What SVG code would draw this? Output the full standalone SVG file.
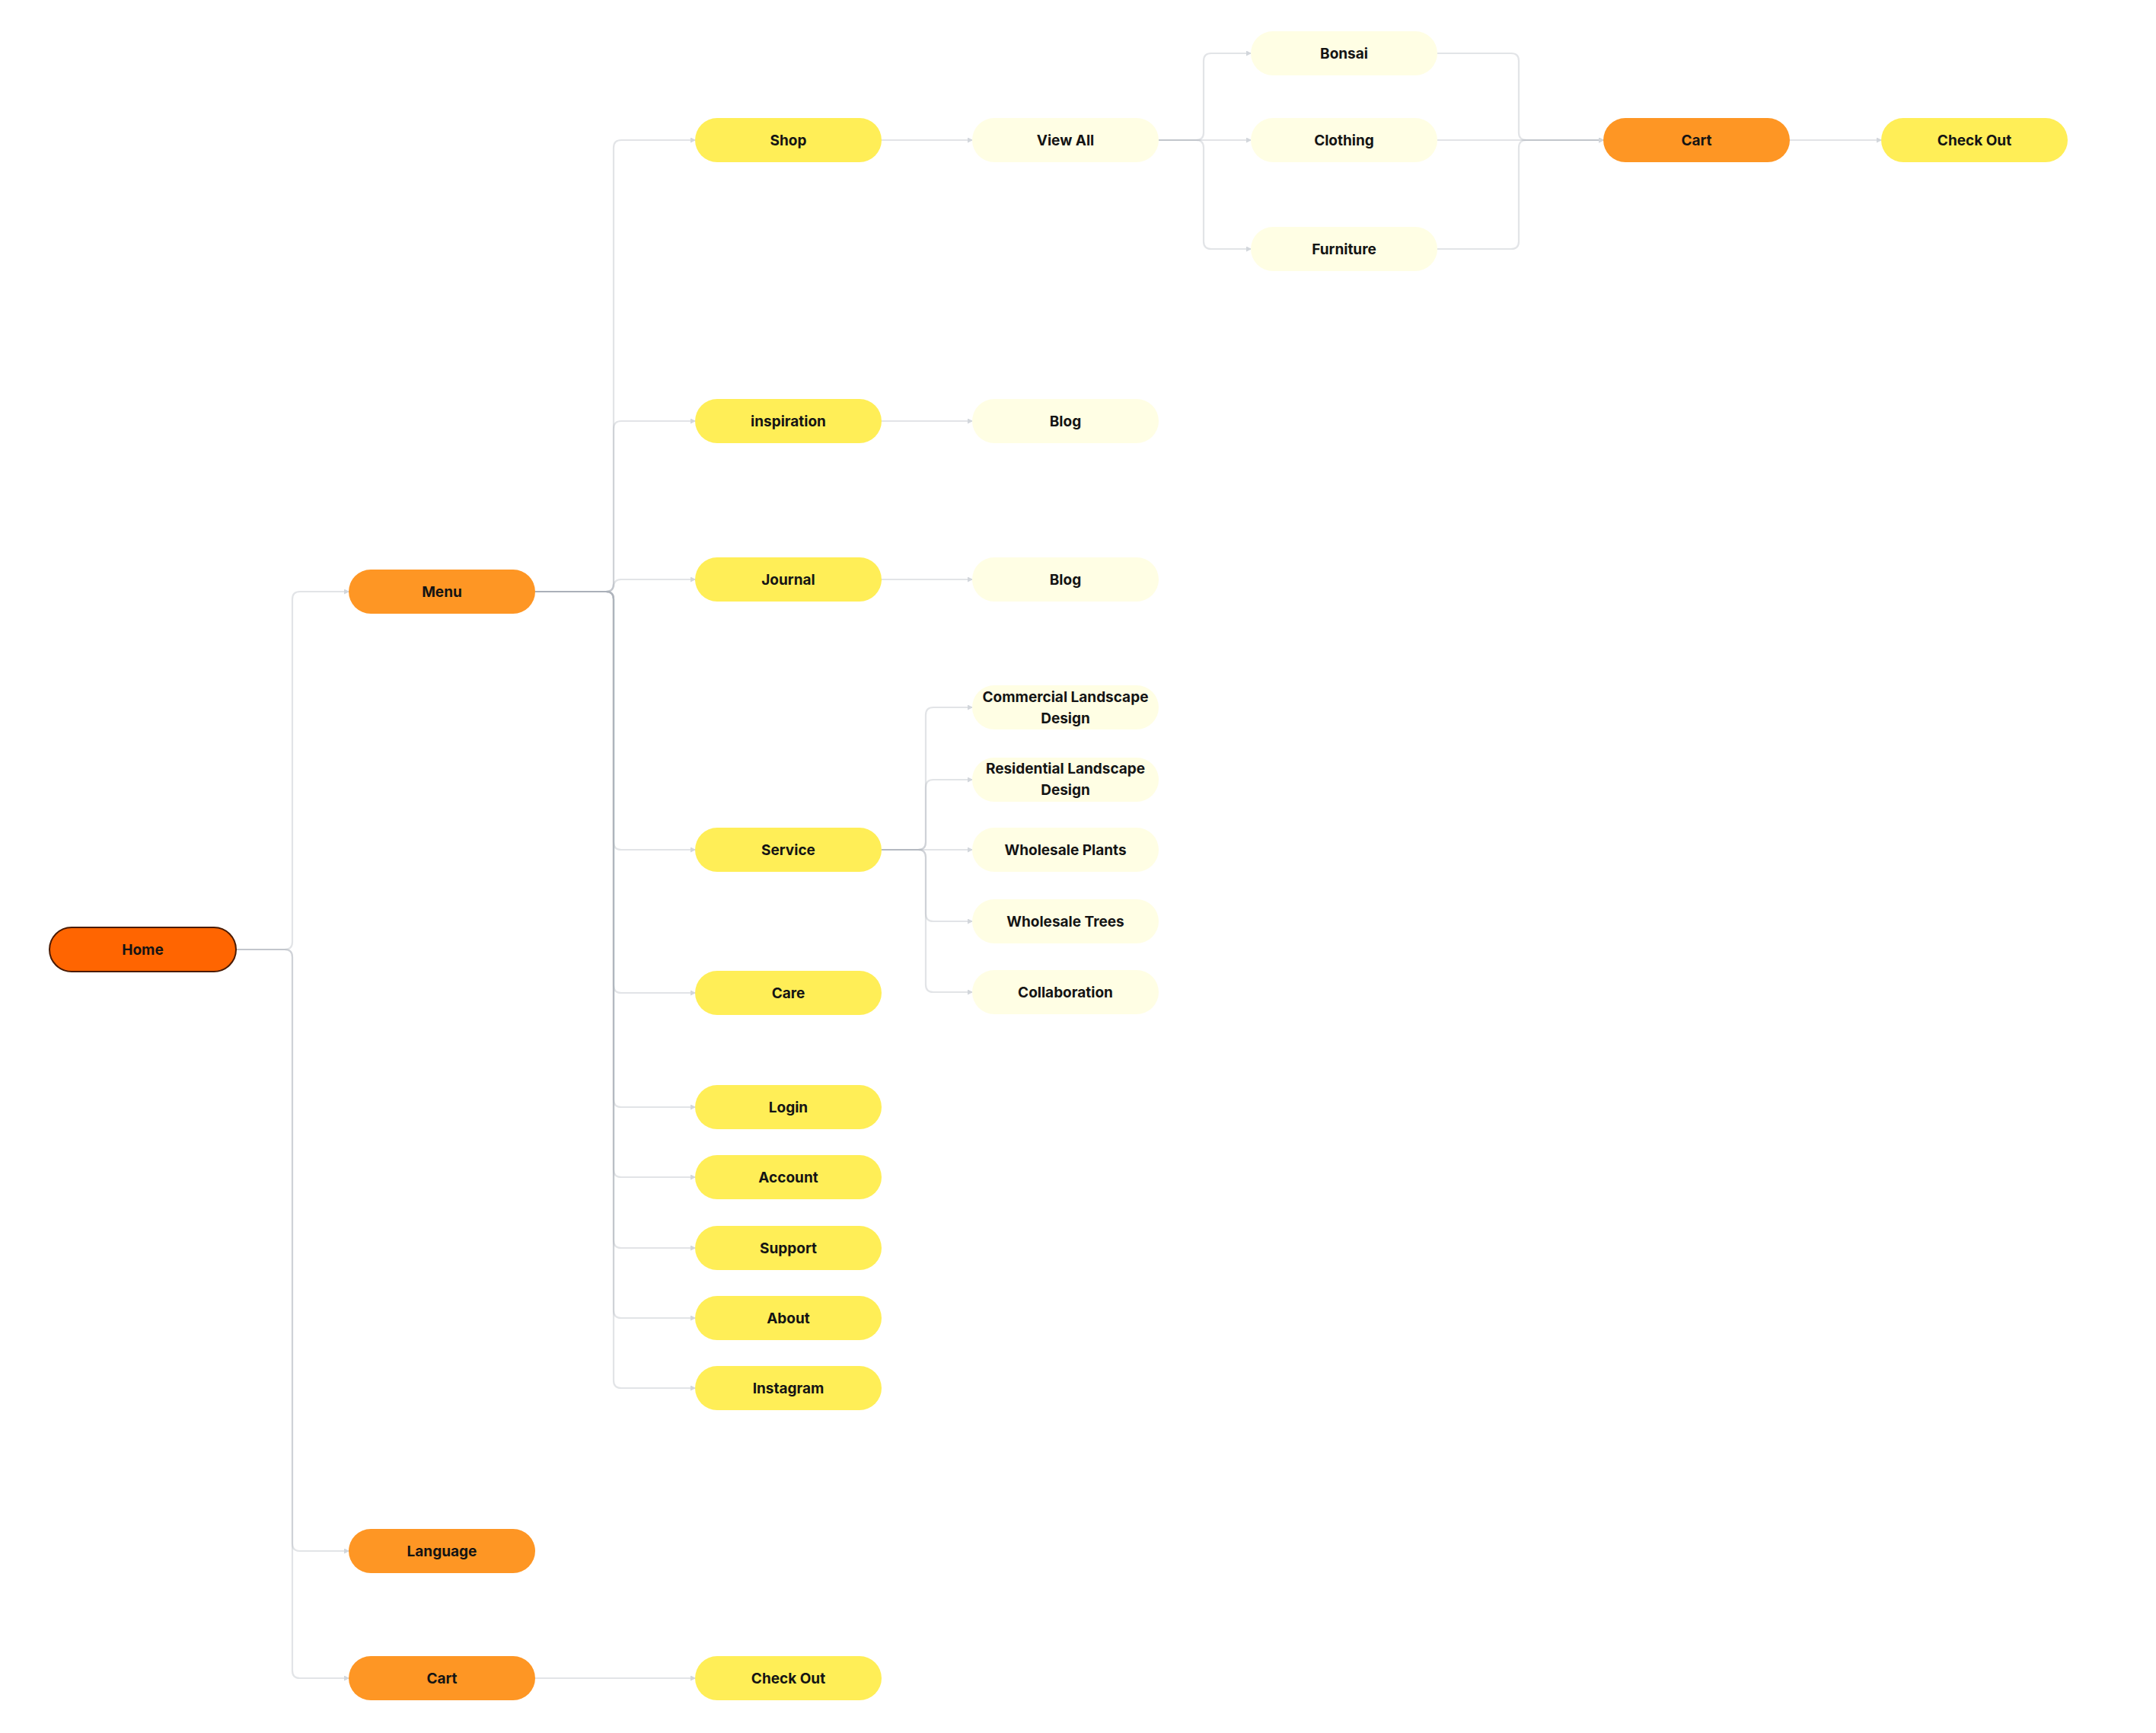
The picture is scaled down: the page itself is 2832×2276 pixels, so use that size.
<svg xmlns="http://www.w3.org/2000/svg" width="2832" height="2276" viewBox="0 0 2832 2276">
<style>
.bg{fill:#ffffff}
.n rect{rx:29;ry:29}
.home rect{fill:#FF6501;stroke:#4a1a00;stroke-width:2}
.l1 rect{fill:#FE9624}
.l2 rect{fill:#FFEE57}
.l3 rect{fill:#FFFEE4}
.n text{font-family:Inter,"Liberation Sans",Arial,sans-serif;font-weight:700;font-size:19px;fill:#141414;text-anchor:middle}
.c path{fill:none;stroke:#a9b0b8;stroke-opacity:0.34;stroke-width:2.2;marker-end:url(#ah)}
</style>
<defs>
<marker id="ah" markerWidth="7" markerHeight="7" refX="6" refY="3.5" orient="auto" markerUnits="userSpaceOnUse">
<path d="M0,0 L7,3.5 L0,7 Z" fill="#d2d6db"/>
</marker>
</defs>
<rect class="bg" x="0" y="0" width="2832" height="2276"/>
<g id="connectors" class="c">
<path d="M310 1247 H374 Q384 1247 384 1237 V787 Q384 777 394 777 H458"/>
<path d="M310 1247 H374 Q384 1247 384 1257 V2027 Q384 2037 394 2037 H458"/>
<path d="M310 1247 H374 Q384 1247 384 1257 V2194 Q384 2204 394 2204 H458"/>
<path d="M703 777 H796 Q806 777 806 767 V194 Q806 184 816 184 H913"/>
<path d="M703 777 H796 Q806 777 806 767 V563 Q806 553 816 553 H913"/>
<path d="M703 777 H796 Q806 777 806 767 V771 Q806 761 816 761 H913"/>
<path d="M703 777 H796 Q806 777 806 787 V1106 Q806 1116 816 1116 H913"/>
<path d="M703 777 H796 Q806 777 806 787 V1294 Q806 1304 816 1304 H913"/>
<path d="M703 777 H796 Q806 777 806 787 V1444 Q806 1454 816 1454 H913"/>
<path d="M703 777 H796 Q806 777 806 787 V1536 Q806 1546 816 1546 H913"/>
<path d="M703 777 H796 Q806 777 806 787 V1629 Q806 1639 816 1639 H913"/>
<path d="M703 777 H796 Q806 777 806 787 V1721 Q806 1731 816 1731 H913"/>
<path d="M703 777 H796 Q806 777 806 787 V1813 Q806 1823 816 1823 H913"/>
<path d="M1158 184 H1277"/>
<path d="M1158 553 H1277"/>
<path d="M1158 761 H1277"/>
<path d="M1158 1116 H1206 Q1216 1116 1216 1106 V939 Q1216 929 1226 929 H1277"/>
<path d="M1158 1116 H1206 Q1216 1116 1216 1106 V1034 Q1216 1024 1226 1024 H1277"/>
<path d="M1158 1116 H1277"/>
<path d="M1158 1116 H1206 Q1216 1116 1216 1126 V1200 Q1216 1210 1226 1210 H1277"/>
<path d="M1158 1116 H1206 Q1216 1116 1216 1126 V1293 Q1216 1303 1226 1303 H1277"/>
<path d="M1522 184 H1571 Q1581 184 1581 174 V80 Q1581 70 1591 70 H1643"/>
<path d="M1522 184 H1643"/>
<path d="M1522 184 H1571 Q1581 184 1581 194 V317 Q1581 327 1591 327 H1643"/>
<path d="M1888 70 H1985 Q1995 70 1995 80 V174 Q1995 184 2005 184 H2106"/>
<path d="M1888 184 H2106"/>
<path d="M1888 327 H1985 Q1995 327 1995 317 V194 Q1995 184 2005 184 H2106"/>
<path d="M2351 184 H2471"/>
<path d="M703 2204 H913"/>
</g>
<g id="home" class="n home"><rect x="65" y="1218" width="245" height="58"/><text x="187.5" y="1247" dy="0.35em">Home</text></g>
<g id="menu" class="n l1"><rect x="458" y="748" width="245" height="58"/><text x="580.5" y="777" dy="0.35em">Menu</text></g>
<g id="language" class="n l1"><rect x="458" y="2008" width="245" height="58"/><text x="580.5" y="2037" dy="0.35em">Language</text></g>
<g id="cart-bottom" class="n l1"><rect x="458" y="2175" width="245" height="58"/><text x="580.5" y="2204" dy="0.35em">Cart</text></g>
<g id="shop" class="n l2"><rect x="913" y="155" width="245" height="58"/><text x="1035.5" y="184" dy="0.35em">Shop</text></g>
<g id="inspiration" class="n l2"><rect x="913" y="524" width="245" height="58"/><text x="1035.5" y="553" dy="0.35em">inspiration</text></g>
<g id="journal" class="n l2"><rect x="913" y="732" width="245" height="58"/><text x="1035.5" y="761" dy="0.35em">Journal</text></g>
<g id="service" class="n l2"><rect x="913" y="1087" width="245" height="58"/><text x="1035.5" y="1116" dy="0.35em">Service</text></g>
<g id="care" class="n l2"><rect x="913" y="1275" width="245" height="58"/><text x="1035.5" y="1304" dy="0.35em">Care</text></g>
<g id="login" class="n l2"><rect x="913" y="1425" width="245" height="58"/><text x="1035.5" y="1454" dy="0.35em">Login</text></g>
<g id="account" class="n l2"><rect x="913" y="1517" width="245" height="58"/><text x="1035.5" y="1546" dy="0.35em">Account</text></g>
<g id="support" class="n l2"><rect x="913" y="1610" width="245" height="58"/><text x="1035.5" y="1639" dy="0.35em">Support</text></g>
<g id="about" class="n l2"><rect x="913" y="1702" width="245" height="58"/><text x="1035.5" y="1731" dy="0.35em">About</text></g>
<g id="instagram" class="n l2"><rect x="913" y="1794" width="245" height="58"/><text x="1035.5" y="1823" dy="0.35em">Instagram</text></g>
<g id="checkout-bottom" class="n l2"><rect x="913" y="2175" width="245" height="58"/><text x="1035.5" y="2204" dy="0.35em">Check Out</text></g>
<g id="view-all" class="n l3"><rect x="1277" y="155" width="245" height="58"/><text x="1399.5" y="184" dy="0.35em">View All</text></g>
<g id="blog-1" class="n l3"><rect x="1277" y="524" width="245" height="58"/><text x="1399.5" y="553" dy="0.35em">Blog</text></g>
<g id="blog-2" class="n l3"><rect x="1277" y="732" width="245" height="58"/><text x="1399.5" y="761" dy="0.35em">Blog</text></g>
<g id="commercial" class="n l3"><rect x="1277" y="900" width="245" height="58"/><text x="1399.5" y="922">Commercial Landscape</text><text x="1399.5" y="950">Design</text></g>
<g id="residential" class="n l3"><rect x="1277" y="995" width="245" height="58"/><text x="1399.5" y="1016">Residential Landscape</text><text x="1399.5" y="1044">Design</text></g>
<g id="wholesale-plants" class="n l3"><rect x="1277" y="1087" width="245" height="58"/><text x="1399.5" y="1116" dy="0.35em">Wholesale Plants</text></g>
<g id="wholesale-trees" class="n l3"><rect x="1277" y="1181" width="245" height="58"/><text x="1399.5" y="1210" dy="0.35em">Wholesale Trees</text></g>
<g id="collaboration" class="n l3"><rect x="1277" y="1274" width="245" height="58"/><text x="1399.5" y="1303" dy="0.35em">Collaboration</text></g>
<g id="bonsai" class="n l3"><rect x="1643" y="41" width="245" height="58"/><text x="1765.5" y="70" dy="0.35em">Bonsai</text></g>
<g id="clothing" class="n l3"><rect x="1643" y="155" width="245" height="58"/><text x="1765.5" y="184" dy="0.35em">Clothing</text></g>
<g id="furniture" class="n l3"><rect x="1643" y="298" width="245" height="58"/><text x="1765.5" y="327" dy="0.35em">Furniture</text></g>
<g id="cart-top" class="n l1"><rect x="2106" y="155" width="245" height="58"/><text x="2228.5" y="184" dy="0.35em">Cart</text></g>
<g id="checkout-top" class="n l2"><rect x="2471" y="155" width="245" height="58"/><text x="2593.5" y="184" dy="0.35em">Check Out</text></g>
</svg>
